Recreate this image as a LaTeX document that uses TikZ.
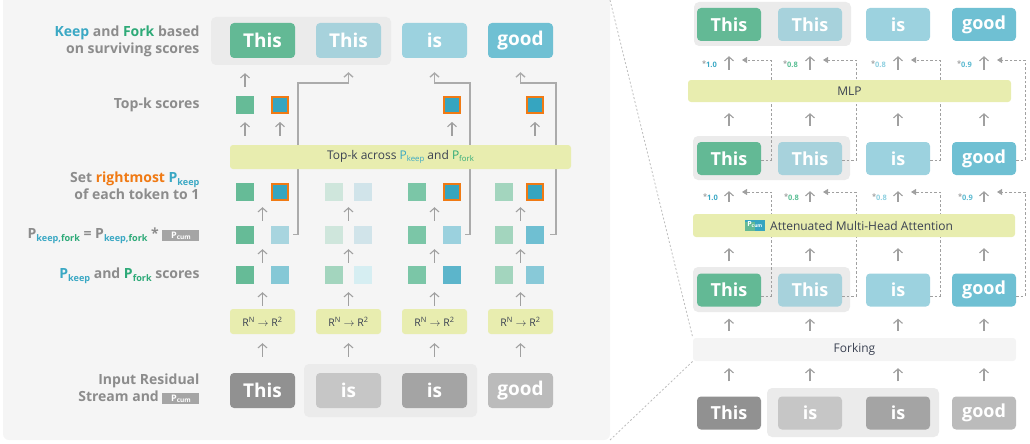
\documentclass[tikz,border=0pt]{standalone}
\usepackage{fontspec}
\usepackage{graphicx}
\setmainfont{Open Sans}
\usetikzlibrary{arrows.meta,positioning}

\definecolor{panelbg}{HTML}{F5F5F5}
\definecolor{grpbg}{HTML}{EBEBEB}
\definecolor{barc}{HTML}{E8EDAF}
\definecolor{forkbar}{HTML}{F4F4F4}
\definecolor{bartxt}{HTML}{3B4252}
\definecolor{labgray}{HTML}{8C8C8C}
\definecolor{arrgray}{HTML}{A0A0A0}
\definecolor{lngray}{HTML}{ABABAB}
\definecolor{dotgray}{HTML}{BDBDBD}
\definecolor{badgec}{HTML}{A5A5A5}
\definecolor{keepc}{HTML}{3AA8C4}
\definecolor{forkc}{HTML}{2EAA78}
\definecolor{orangec}{HTML}{F07A14}
\definecolor{tkGreen}{HTML}{63B995}
\definecolor{tkPale}{HTML}{A7D2DC}
\definecolor{tkIs}{HTML}{9CD2DF}
\definecolor{tkGood}{HTML}{6FC0D3}
\definecolor{gA}{HTML}{919191}
\definecolor{gB}{HTML}{C6C6C6}
\definecolor{gC}{HTML}{A4A4A4}
\definecolor{gD}{HTML}{BBBBBB}
\definecolor{sqG1}{HTML}{66BB97}
\definecolor{sqG2}{HTML}{7BC6A7}
\definecolor{sqG3}{HTML}{A3D5BE}
\definecolor{sqG4}{HTML}{CFE6DC}
\definecolor{sqHot}{HTML}{36A5C0}
\definecolor{sqB2}{HTML}{5CB5CB}
\definecolor{sqB3}{HTML}{6FBFD2}
\definecolor{sqB4}{HTML}{85C8D6}
\definecolor{sqB5}{HTML}{88C9D8}
\definecolor{sqB6}{HTML}{9BD1DE}
\definecolor{sqB7}{HTML}{A8D5DF}
\definecolor{sqB8}{HTML}{D1E4EA}
\definecolor{sqB9}{HTML}{D6EEF2}
\definecolor{mulc1}{HTML}{3AA8C4}
\definecolor{mulc2}{HTML}{5BBF95}
\definecolor{mulc3}{HTML}{8FD0E0}
\definecolor{mulc4}{HTML}{5AB9D0}

\newcommand{\Psub}[2]{\textcolor{#1}{P\raisebox{-0.35ex}{\scalebox{0.65}{#2}}}}
\newcommand{\Pkf}{P\raisebox{-0.35ex}{\scalebox{0.65}{\textcolor{keepc}{keep,}\textcolor{forkc}{fork}}}}
\newcommand{\pcumbox}{{\setlength{\fboxsep}{0pt}\colorbox{badgec}{\makebox[37pt]{\rule[-2.5pt]{0pt}{11.5pt}\color{white}\fontsize{9}{9}\selectfont P\raisebox{-1pt}{\fontsize{6.5}{6.5}\selectfont cum}}}}}

\tikzset{
  panel/.style={fill=panelbg, rounded corners=6pt, minimum width=607pt, minimum height=446pt, inner sep=0pt},
  grp/.style={fill=grpbg, rounded corners=5pt},
  tok/.style={rounded corners=4pt, minimum width=65pt, minimum height=35pt, inner sep=0pt, text=white, font=\fontsize{19}{19}\selectfont\bfseries},
  rtok/.style={tok, minimum width=64pt, minimum height=33pt, font=\fontsize{18}{18}\selectfont\bfseries},
  sqr/.style={minimum size=18pt, inner sep=0pt},
  hot/.style={sqr, fill=sqHot, draw=orangec, line width=2pt, minimum size=16pt},
  rbox/.style={fill=barc, rounded corners=3pt, minimum width=65pt, minimum height=25pt, inner sep=0pt, text=bartxt, font=\fontsize{10.5}{10.5}\selectfont},
  bar/.style={fill=barc, rounded corners=3pt, inner sep=0pt, text=bartxt, font=\fontsize{12}{12}\selectfont},
  lab/.style={anchor=east, align=right, text=labgray, font=\fontsize{14}{17}\selectfont\bfseries},
  uparr/.style={draw=arrgray, line width=1.1pt, -{Straight Barb[length=4pt,width=9pt]}},
  forkln/.style={uparr, draw=lngray, line width=1.4pt},
  resid/.style={draw=arrgray, line width=0.9pt, dash pattern=on 2.5pt off 2pt, -{Triangle[length=5pt,width=6pt]}},
  mult/.style={anchor=east, inner sep=0pt, font=\fontsize{7.5}{7.5}\selectfont\bfseries},
  zoomln/.style={draw=dotgray, line width=0.8pt, dash pattern=on 2pt off 2pt}
}

\begin{document}
\begin{tikzpicture}[x=1pt,y=-1pt]
\useasboundingbox (0,0) rectangle (1030,444);

% left panel: scoring detail
\node[panel] (lpanel) at (306.5,217) {};
\fill[grp] (211,17) rectangle (391,65);
\fill[grp] (304,364) rectangle (477,417);

\foreach \i/\cx/\kx/\fx/\word/\gc/\ow/\oc/\ka/\fa/\kb/\fb/\kc/\fc/\fd/\fs in {
  1/262.5/245/280/This/gA/This/tkGreen/sqG1/sqB4/sqG1/sqB7/sqG1/sqHot/orangec/16pt,
  2/348.5/334/363/is/gB/This/tkPale/sqG3/sqB9/sqG4/sqB8/sqG4/sqB8/none/18pt,
  3/434.5/417/452/is/gC/is/tkIs/sqG2/sqB2/sqG2/sqB6/sqG2/sqHot/orangec/16pt,
  4/520.5/504/535/good/gD/good/tkGood/sqG3/sqB5/sqG3/sqB3/sqG3/sqHot/orangec/16pt}
{
  \node[tok, fill=\gc] (in\i) at (\cx,390.5) {\word};
  \node[tok, fill=\oc] (out\i) at (\cx,40.5) {\ow};
  \node[rbox] (r\i) at (\cx,321.5) {R\textsuperscript{N} $\rightarrow$ R\textsuperscript{2}};
  \node[sqr, fill=\ka] (sck\i) at (\kx,275) {};
  \node[sqr, fill=\fa] (scf\i) at (\fx,275) {};
  \node[sqr, fill=\kb] (pkk\i) at (\kx,234.5) {};
  \node[sqr, fill=\fb] (pkf\i) at (\fx,234.5) {};
  \node[sqr, fill=\kc] (stk\i) at (\kx,192) {};
  \node[sqr, fill=\fc, draw=\fd, line width=2pt, minimum size=\fs] (stf\i) at (\fx,192) {};
  % arrows up the column
  \draw[uparr, shorten <=16pt, shorten >=9pt] (in\i.north) -- (r\i.south);
  \draw[uparr, shorten <=3pt, shorten >=8pt] (r\i.north) -- (r\i.north |- sck\i.south);
  \draw[uparr, shorten <=3pt, shorten >=5.5pt] (r\i.north |- sck\i.north) -- (r\i.north |- pkk\i.south);
  \draw[uparr, shorten <=4.5pt, shorten >=6pt] (r\i.north |- pkk\i.north) -- (r\i.north |- stk\i.south);
}

% surviving top-k scores
\node[sqr, fill=sqG1] (topk1) at (245,105) {};
\node[hot] (topf1) at (280,105) {};
\node[hot] (topf3) at (452,105) {};
\node[hot] (topf4) at (535,105) {};
\draw[uparr, shorten <=9pt, shorten >=15pt] (topk1.north) -- (topk1.north |- out1.south);

% forked tokens
\coordinate (bend1) at (298,83);
\coordinate (bend3) at (470,83);
\coordinate (bend4) at (556,83);
\draw[forkln, shorten >=14pt] ([xshift=4pt]pkf1.east) -| (bend1) -| (out2.south);
\draw[forkln, shorten >=14pt] ([xshift=4pt]pkf3.east) -| (bend3) -| (out3.south);
\draw[forkln, shorten >=14pt] ([xshift=6pt]pkf4.east) -| (bend4) -| (out4.south);

\node[bar, minimum width=341pt, minimum height=24pt] (topbar) at (400.5,157)
  {Top-k across \Psub{keepc}{keep} and \Psub{forkc}{fork}};
\foreach \s in {topk1,topf1,topf3,topf4}
  \draw[uparr, shorten <=9pt, shorten >=8pt] (\s.south |- topbar.north) -- (\s.south);

% row labels
\node[lab] (lkeep) at (203,41) {\textcolor{keepc}{Keep} and \textcolor{forkc}{Fork} based\\on surviving scores};
\node[lab] (ltopk) at (203,105) {Top-k scores};
\node[lab] (lset) at (203,186) {Set \textcolor{orangec}{rightmost} \Psub{keepc}{keep}\\of each token to 1};
\node[lab] (lpkf) at (203,236) {\Pkf{} = \Pkf{} * \pcumbox};
\node[lab] (lscore) at (203,276) {\Psub{keepc}{keep} and \Psub{forkc}{fork} scores};
\node[lab] (lin) at (203,389) {Input Residual\\Stream and \pcumbox};

% right panel: forking inside the layer
\fill[grp] (694,2) rectangle (851,46);
\fill[grp] (693,136) rectangle (850,180);
\fill[grp] (693,267) rectangle (850,312);
\fill[grp] (767,388) rectangle (939,437);

\foreach \i/\cx/\rx/\ow/\oc/\iw/\ic in {
  1/729/771/This/tkGreen/This/gA,
  2/810/856/This/tkPale/is/gB,
  3/898/940/is/tkIs/is/gC,
  4/984/1025/good/tkGood/good/gD}
{
  \node[rtok, fill=\ic] (d\i) at (\cx,413) {\iw};
  \node[rtok, fill=\oc] (c\i) at (\cx,290) {\ow};
  \node[rtok, fill=\oc] (b\i) at (\cx,158.5) {\ow};
  \node[rtok, fill=\oc] (a\i) at (\cx,24.5) {\ow};
  \coordinate (ra\i) at (\rx,60);
  \coordinate (rc\i) at (\rx,192);
  \draw[resid, shorten >=13pt] ([yshift=-1.5pt]b\i.east) -| (ra\i) -- (ra\i -| b\i.center);
  \draw[resid, shorten >=13pt] ([yshift=-6pt]c\i.east) -| (rc\i) -- (rc\i -| c\i.center);
}

\node[bar, minimum width=323pt, minimum height=22pt] (mlp) at (849.5,91) {MLP};
\node[bar, minimum width=322pt, minimum height=23pt] (attn) at (854,225.5) {};
\node[bar, fill=none, anchor=west] (attntxt) at (770,225.5) {Attenuated Multi-Head Attention};
\node[fill=sqHot, minimum width=20pt, minimum height=11pt, inner sep=0pt, anchor=east, text=white,
  font=\fontsize{7}{7}\selectfont\bfseries,
  path picture={\fill[tkGreen] ([yshift=-1pt]path picture bounding box.south west) rectangle ([xshift=10pt,yshift=-2pt]path picture bounding box.north west);}]
  (pcumicon) at (765,225) {P\raisebox{-1pt}{\scalebox{0.7}{cum}}};
\node[bar, fill=forkbar, minimum width=323pt, minimum height=23pt] (fork) at (854.5,349.5) {Forking};

\foreach \i/\mv/\mc in {1/1.0/mulc1, 2/0.8/mulc2, 3/0.8/mulc3, 4/0.9/mulc4}
{
  \draw[uparr, shorten <=15pt, shorten >=7pt] (d\i.north) -- (d\i.north |- fork.south);
  \draw[uparr, shorten <=7pt, shorten >=12pt] (c\i.south |- fork.north) -- (c\i.south);
  \draw[uparr, shorten <=12pt, shorten >=11pt] (c\i.north) -- (c\i.north |- attn.south);
  \draw[uparr, shorten <=12pt, shorten >=16pt] (b\i.south |- attn.north) -- (b\i.south);
  \draw[uparr, shorten <=16pt, shorten >=11pt] (b\i.north) -- (b\i.north |- mlp.south);
  \draw[uparr, shorten <=10pt, shorten >=15pt] (a\i.south |- mlp.north) -- (a\i.south);
  \node[mult, xshift=-12pt, yshift=-4pt] (ma\i) at (a\i.south |- ra\i) {\textcolor{arrgray}{\raisebox{1.5pt}{*}}\textcolor{\mc}{\mv}};
  \node[mult, xshift=-11pt, yshift=-5pt] (mc\i) at (b\i.south |- rc\i) {\textcolor{arrgray}{\raisebox{1.5pt}{*}}\textcolor{\mc}{\mv}};
}

% zoom lines from the left panel
\coordinate (ptop) at (610,0);
\coordinate (pbot) at (610,440);
\draw[zoomln] (ptop) -- (fork.north west);
\draw[zoomln] (pbot) -- (fork.south west);
\end{tikzpicture}
\end{document}
